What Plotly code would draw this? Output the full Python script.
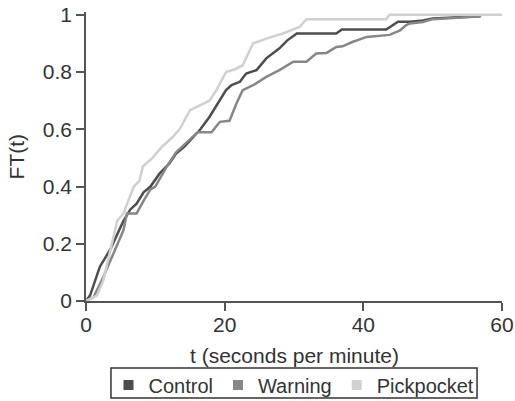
import plotly.graph_objects as go

# Control series
control_t = [0, 0.6, 2, 3.5, 5.4, 6.4, 7.3, 8.3, 9.3, 10.6, 12, 13, 14.2, 15.4, 16.5, 17.8, 19, 20.2, 21,
             22.2, 23.1, 24.6, 26, 27.9, 29, 30.4, 36.1, 36.9, 43.3, 45, 46.7, 48.6, 50, 56.8]
control_f = [0, 0.02, 0.12, 0.18, 0.28, 0.32, 0.34, 0.38, 0.40, 0.445, 0.48, 0.515, 0.54, 0.573, 0.60, 0.643,
             0.69, 0.737, 0.755, 0.766, 0.795, 0.807, 0.848, 0.883, 0.91, 0.935, 0.935, 0.949, 0.949, 0.976,
             0.976, 0.98, 0.987, 0.995]

# Warning series
warning_t = [0, 1.1, 2.5, 4, 5.4, 5.9, 7.3, 8.3, 9.3, 10, 11.6, 13, 14.5, 16.1, 18.1, 19.3, 20.7, 21.7, 22.6,
             24.1, 26, 27.9, 29.9, 31.8, 33.2, 34.7, 36.1, 37, 38.5, 40.5, 43.8, 45.3, 46.2, 46.7, 48.6, 50, 57]
warning_f = [0, 0.014, 0.084, 0.167, 0.247, 0.306, 0.306, 0.35, 0.39, 0.40, 0.468, 0.52, 0.555, 0.59, 0.59,
             0.626, 0.63, 0.69, 0.737, 0.754, 0.783, 0.807, 0.836, 0.836, 0.865, 0.867, 0.888, 0.89, 0.906,
             0.923, 0.93, 0.946, 0.964, 0.97, 0.975, 0.985, 0.995]

# Pickpocket series
pick_t = [0, 1.6, 2.5, 3.3, 4.5, 5.4, 6.9, 7.7, 8.2, 9.6, 11, 12.5, 13.5, 15, 16.9, 17.8, 18.8, 20.2, 21.5,
          22.6, 24.1, 26, 28.4, 30.8, 31.8, 43.3, 43.8, 60]
pick_f = [0, 0.02, 0.072, 0.154, 0.28, 0.306, 0.40, 0.42, 0.47, 0.50, 0.54, 0.573, 0.60, 0.667, 0.69, 0.70,
          0.737, 0.80, 0.81, 0.824, 0.9, 0.917, 0.935, 0.958, 0.985, 0.985, 1.0, 1.0]

names = ["Control", "Warning", "Pickpocket"]
colors = ["#4d4d4d", "#878787", "#d0d0d0"]
series = [(control_t, control_f), (warning_t, warning_f), (pick_t, pick_f)]

x_ticks = [0, 20, 40, 60]
y_ticks = [0, 0.2, 0.4, 0.6, 0.8, 1]
y_ticklabels = ["0", "0.2", "0.4", "0.6", "0.8", "1"]
x_title = "t (seconds per minute)"
y_title = "FT(t)"

fig = go.Figure()
for (t, f), name, c in zip(series, names, colors):
    fig.add_trace(go.Scatter(x=t, y=f, mode="lines", line=dict(color=c, width=2.5),
                             showlegend=False, name=name))
for name, c in zip(names, colors):
    fig.add_trace(go.Scatter(x=[None], y=[None], mode="markers", name=name,
                             marker=dict(symbol="square", size=10, color=c)))

font = dict(family="Arial, Liberation Sans, sans-serif", size=21, color="#333333")
legend_font = dict(family="Arial, Liberation Sans, sans-serif", size=20, color="#333333")
axis_col = "#555555"
fig.update_layout(
    width=515, height=401,
    margin=dict(l=86, r=13, t=12, b=100),
    plot_bgcolor="white", paper_bgcolor="white",
    font=font,
    legend=dict(orientation="h", x=0.5, xanchor="center", xref="paper",
                yref="container", y=0.04, yanchor="middle",
                bgcolor="rgba(0,0,0,0)", borderwidth=0, font=legend_font,
                itemwidth=30, tracegroupgap=0),
    xaxis=dict(range=[0, 60], tickvals=x_ticks, ticks="outside", ticklen=8, tickwidth=1.5,
               tickcolor=axis_col, showline=True, linecolor=axis_col, linewidth=1.5,
               showgrid=False, zeroline=False, automargin=False, tickfont=font,
               ticklabelstandoff=-4),
    yaxis=dict(range=[0, 1.01], tickvals=y_ticks, ticktext=y_ticklabels, ticks="outside",
               ticklen=8, tickwidth=1.5, tickcolor=axis_col, showline=True, linecolor=axis_col,
               linewidth=1.5, showgrid=False, zeroline=False, automargin=False, tickfont=font,
               ticklabelstandoff=0),
    annotations=[
        dict(text=x_title, xref="paper", yref="paper", x=0.5, y=-0.187, xanchor="center",
             yanchor="middle", showarrow=False, font=font),
        dict(text=y_title, xref="paper", yref="paper", x=-0.166, y=0.5, xanchor="center",
             yanchor="middle", textangle=-90, showarrow=False, font=font),
    ],
    shapes=[
        dict(type="rect", xref="paper", yref="paper", x0=0.06, x1=0.94, y0=-0.336, y1=-0.232,
             line=dict(color="#333333", width=1.5), fillcolor="rgba(0,0,0,0)", layer="below"),
    ],
)
fig.write_html("out.html", config={"displayModeBar": False},
               post_script="document.body.style.margin='0';document.body.style.overflow='hidden';")
